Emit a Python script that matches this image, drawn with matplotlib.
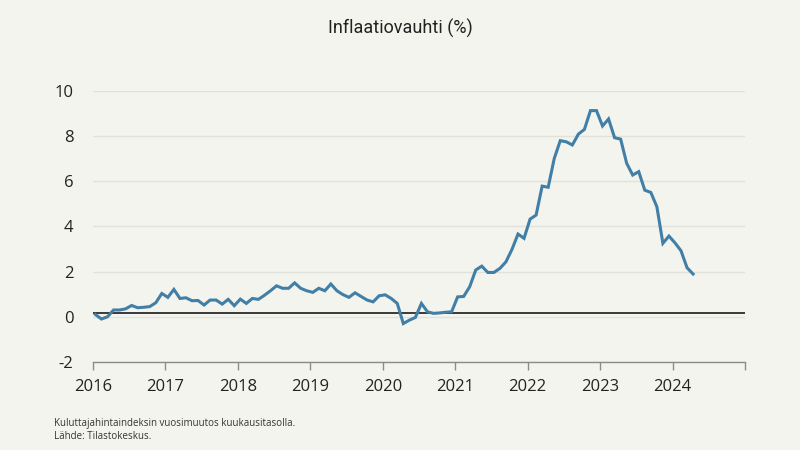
import numpy as np
import pandas as pd
import matplotlib as mpl
mpl.use('Agg')
import matplotlib.pyplot as plt

# Kuluttajahintaindeksin vuosimuutos, % (tammi 2016 - huhti 2024)
values_2016 = [0.1, -0.1, 0.0, 0.3, 0.3, 0.35, 0.5, 0.4, 0.42, 0.45, 0.62, 1.03]
values_2017 = [0.86, 1.21, 0.81, 0.84, 0.71, 0.72, 0.52, 0.74, 0.74, 0.56, 0.77, 0.49]
values_2018 = [0.78, 0.59, 0.81, 0.77, 0.95, 1.15, 1.37, 1.26, 1.26, 1.5, 1.26, 1.15]
values_2019 = [1.08, 1.26, 1.15, 1.45, 1.15, 0.98, 0.86, 1.06, 0.9, 0.74, 0.66, 0.93]
values_2020 = [0.97, 0.81, 0.59, -0.3, -0.15, -0.03, 0.59, 0.22, 0.15, 0.17, 0.2, 0.22]
values_2021 = [0.88, 0.9, 1.33, 2.07, 2.24, 1.96, 1.96, 2.14, 2.43, 2.98, 3.66, 3.47]
values_2022 = [4.32, 4.5, 5.78, 5.73, 7.0, 7.79, 7.74, 7.6, 8.08, 8.29, 9.12, 9.12]
values_2023 = [8.44, 8.75, 7.92, 7.86, 6.79, 6.27, 6.42, 5.6, 5.5, 4.87, 3.25, 3.57]
values_2024 = [3.27, 2.92, 2.17, 1.89]

inflation = (values_2016 + values_2017 + values_2018 + values_2019 + values_2020
             + values_2021 + values_2022 + values_2023 + values_2024)
years = np.arange(2016, 2026)
yticks = [-2, 0, 2, 4, 6, 8, 10]
baseline = 0.15

months = 2016 + (np.arange(len(inflation)) + 0.4) / 12.0

bg = '#f4f4ef'
fig = plt.figure(figsize=(8, 4.5), dpi=100, facecolor=bg)
ax = fig.add_axes([0.11625, 0.1956, 0.815, 0.6028], facecolor=bg)

ax.set_xlim(2016, 2025)
ax.set_ylim(-2, 10)

for yv in yticks:
    ax.axhline(yv, color='#e2e2dc', lw=1.0, zorder=1)
ax.axhline(baseline, color='#2b2b2b', lw=1.3, zorder=2)
ax.plot(months, inflation, color='#417fa6', lw=2.2, solid_joinstyle='miter', zorder=3)

for s in ['top', 'right', 'left']:
    ax.spines[s].set_visible(False)
ax.spines['bottom'].set_color('#8a8a8a')
ax.spines['bottom'].set_linewidth(1.0)

ax.set_xticks(years)
ax.set_xticklabels([str(y) if y < 2025 else '' for y in years])
ax.set_yticks(yticks)
ax.set_yticklabels([str(v) for v in yticks])
ax.tick_params(axis='x', length=6, width=1.0, color='#8a8a8a', pad=6,
               labelsize=12, labelcolor='#222222')
ax.tick_params(axis='y', length=0, pad=14, labelsize=12, labelcolor='#222222')
for lab in ax.get_xticklabels() + ax.get_yticklabels():
    lab.set_family('Open Sans')

fig.text(0.5, 0.937, 'Inflaatiovauhti (%)', ha='center', va='center',
         fontsize=13, family='Roboto', color='#222222')
fig.text(0.068, 0.045, 'Kuluttajahintaindeksin vuosimuutos kuukausitasolla.\nLähde: Tilastokeskus.',
         ha='left', va='center', fontsize=7, family='Open Sans', color='#333333',
         linespacing=1.3)

fig.savefig('out.png', dpi=100, facecolor=bg)
